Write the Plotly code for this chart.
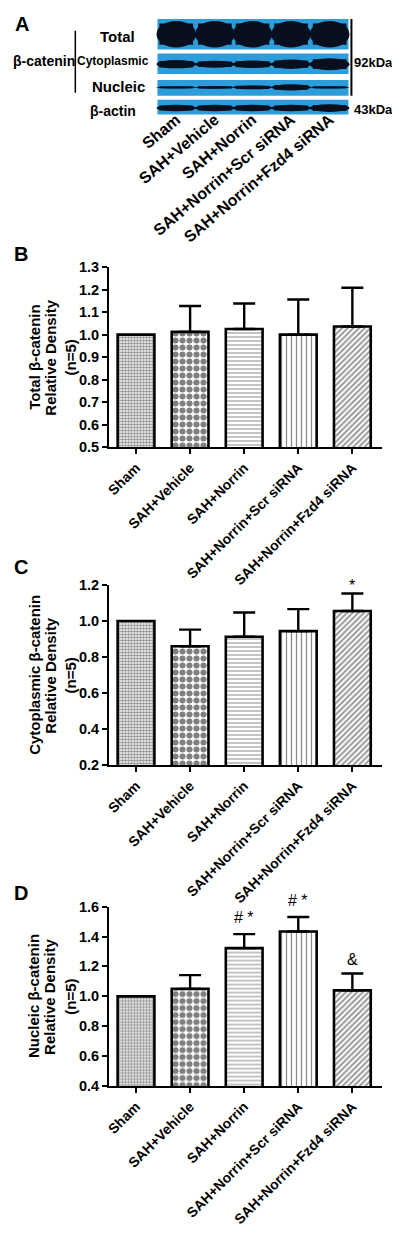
import plotly.graph_objects as go

# ---------------- data ----------------
categories = ["Sham", "SAH+Vehicle", "SAH+Norrin", "SAH+Norrin+Scr siRNA", "SAH+Norrin+Fzd4 siRNA"]

total_mean = [1.000, 1.012, 1.025, 1.000, 1.036]
total_err = [0.000, 0.115, 0.113, 0.156, 0.172]

cyto_mean = [1.000, 0.860, 0.913, 0.944, 1.056]
cyto_err = [0.000, 0.092, 0.134, 0.122, 0.097]

nuc_mean = [1.000, 1.050, 1.322, 1.434, 1.040]
nuc_err = [0.000, 0.092, 0.094, 0.096, 0.113]

cyto_marks = ["", "", "", "", "*"]
nuc_marks = ["", "", "# *", "# *", "&"]

# western blot band strengths per lane (relative thickness of the band)
band_total = [1.0, 1.0, 1.0, 1.0, 1.0]
band_cyto = [0.42, 0.36, 0.38, 0.48, 0.62]
band_nuc = [0.16, 0.20, 0.28, 0.45, 0.18]
band_actin = [0.50, 0.50, 0.50, 0.50, 0.60]

# page: body has an 8px margin, so the figure is 384 x 1219 drawn at (8, 8)
OX, OY = 8, 8
W, H = 384, 1219
FONT = "Liberation Sans, Arial, sans-serif"
BLUE = "#2c9cda"
BAND = "#08101f"
MARK_SHIFT = {"*": -3, "# *": 6, "&": 3}


def py(p):
    return 1 - (p - OY) / H


def px(p):
    return (p - OX) / W


patterns = [
    dict(shape=".", size=3, solidity=0.6, fgcolor="#222", bgcolor="white"),
    dict(shape=".", size=7, solidity=0.6, fgcolor="black", bgcolor="white"),
    dict(shape="-", size=4, solidity=0.35, fgcolor="#555", bgcolor="white"),
    dict(shape="|", size=5, solidity=0.25, fgcolor="#111", bgcolor="white"),
    dict(shape="/", size=4, solidity=0.5, fgcolor="#333", bgcolor="white"),
]

fig = go.Figure()

panels = [
    dict(mean=total_mean, err=total_err, top=263, bot=446, rng=[0.5, 1.3], dtick=0.1,
         title=["Total β-catenin", "Relative Density", "(n=5)"], marks=None, letter="B", ly=250),
    dict(mean=cyto_mean, err=cyto_err, top=586, bot=769, rng=[0.2, 1.2], dtick=0.2,
         title=["Cytoplasmic β-catenin", "Relative Density", "(n=5)"], marks=cyto_marks, letter="C", ly=568),
    dict(mean=nuc_mean, err=nuc_err, top=912.7, bot=1095, rng=[0.4, 1.6], dtick=0.2,
         title=["Nucleic β-catenin", "Relative Density", "(n=5)"], marks=nuc_marks, letter="D", ly=899),
]

annotations = []
xs = list(range(len(categories)))

for i, p in enumerate(panels):
    n = i + 1
    xa = "x" if n == 1 else f"x{n}"
    ya = "y" if n == 1 else f"y{n}"
    for k in xs:
        fig.add_trace(go.Bar(
            x=[k], y=[p["mean"][k]], base=0, xaxis=xa, yaxis=ya, width=0.68,
            marker=dict(color="white", line=dict(color="black", width=2.6), pattern=patterns[k]),
            error_y=dict(type="data", symmetric=False, array=[p["err"][k]], arrayminus=[0],
                         color="black", thickness=2.4, width=11, visible=p["err"][k] > 0),
            showlegend=False, hoverinfo="skip",
        ))
    axis_common = dict(showline=True, linecolor="black", linewidth=2, ticks="outside",
                       ticklen=5, tickwidth=2, tickcolor="black", showgrid=False, zeroline=False)
    fig.update_layout(**{
        ("xaxis" if n == 1 else f"xaxis{n}"): dict(
            domain=[px(106), px(382)], range=[-0.5, 4.55], anchor=ya,
            tickvals=xs, ticktext=categories, tickangle=-45,
            tickfont=dict(family=FONT, size=14, color="black", weight="bold"), **axis_common),
        ("yaxis" if n == 1 else f"yaxis{n}"): dict(
            domain=[py(p["bot"]), py(p["top"])], range=p["rng"], anchor=xa,
            dtick=p["dtick"], tick0=0, tickformat=".1f",
            tickfont=dict(family=FONT, size=14.5, color="black", weight="bold"), **axis_common),
    })
    ymid = py((p["top"] + p["bot"]) / 2)
    for line, xpos in zip(p["title"], [30, 46, 67]):
        annotations.append(dict(text=line, x=px(xpos), y=ymid, xref="paper", yref="paper",
                                textangle=-90, showarrow=False, xanchor="center", yanchor="middle",
                                font=dict(family=FONT, size=15, color="black", weight="bold")))
    annotations.append(dict(text=p["letter"], x=0, y=py(p["ly"]), xref="paper", yref="paper",
                            showarrow=False, xanchor="left", yanchor="middle",
                            font=dict(family=FONT, size=20, color="black", weight="bold")))
    if p["marks"]:
        for k in xs:
            m = p["marks"][k]
            if m:
                annotations.append(dict(text=m, x=k, y=p["mean"][k] + p["err"][k],
                                        xref=xa, yref=ya, showarrow=False, yanchor="bottom",
                                        yshift=MARK_SHIFT[m],
                                        font=dict(family=FONT, size=16, color="black")))

# ---------------- panel A: western blot ----------------
lane_centers = [174, 213, 251, 290, 329]
fig.add_trace(go.Scatter(x=[200], y=[50], xaxis="x4", yaxis="y4", mode="markers",
                         marker=dict(opacity=0), showlegend=False, hoverinfo="skip"))
fig.update_layout(
    xaxis4=dict(domain=[0, 1], range=[OX, OX + W], anchor="y4", showgrid=False, zeroline=False,
                showline=False, ticks="", tickvals=lane_centers, ticktext=categories,
                tickangle=-40, ticklabelstandoff=-10,
                tickfont=dict(family=FONT, size=16, color="black", weight="bold")),
    yaxis4=dict(domain=[py(110), 1], range=[110, OY], anchor="x4", showgrid=False,
                zeroline=False, showline=False, showticklabels=False, ticks=""),
)

shapes = []
boxes = [(11, 42), (46, 67), (73, 89), (93, 108)]
band_specs = [(band_total, 26.5, 27), (band_cyto, 57, 20), (band_nuc, 80.5, 14), (band_actin, 101.5, 13)]
for (y0, y1) in boxes:
    shapes.append(dict(type="rect", xref="x4", yref="y4", x0=155, x1=348, y0=y0, y1=y1,
                       fillcolor=BLUE, line=dict(width=0), layer="above"))
for (vals, yc, hmax) in band_specs:
    for c, v in zip(lane_centers, vals):
        h = hmax * v
        shapes.append(dict(type="circle", xref="x4", yref="y4", x0=c - 20, x1=c + 20,
                           y0=yc - h / 2, y1=yc + h / 2, fillcolor=BAND, line=dict(width=0), layer="above"))
        shapes.append(dict(type="rect", xref="x4", yref="y4", x0=c - 17, x1=c + 17,
                           y0=yc - h / 2.5, y1=yc + h / 2.5, fillcolor=BAND, line=dict(width=0), layer="above"))
# bracket lines
shapes.append(dict(type="line", xref="x4", yref="y4", x0=351, x1=351, y0=11, y1=89,
                   line=dict(color="black", width=2), layer="above"))
shapes.append(dict(type="line", xref="x4", yref="y4", x0=72, x1=72, y0=23, y1=86,
                   line=dict(color="black", width=1.5), layer="above"))

blot_labels = [("Total", 115, 29, 15), ("Cytoplasmic", 110, 54, 12), ("Nucleic", 116, 80, 15),
               ("β-actin", 110, 105, 14), ("β-catenin", 40, 54, 14), ("92kDa", 373, 55, 13),
               ("43kDa", 373, 103, 13)]
for text, x, y, s in blot_labels:
    annotations.append(dict(text=text, x=x, y=y, xref="x4", yref="y4", showarrow=False,
                            xanchor="center", yanchor="middle",
                            font=dict(family=FONT, size=s, color="black", weight="bold")))
annotations.append(dict(text="A", x=px(9), y=py(16), xref="paper", yref="paper", showarrow=False,
                        xanchor="left", yanchor="middle",
                        font=dict(family=FONT, size=20, color="black", weight="bold")))

fig.update_layout(
    width=W, height=H, margin=dict(l=0, r=0, t=0, b=0),
    paper_bgcolor="white", plot_bgcolor="white", barmode="overlay",
    annotations=annotations, shapes=shapes,
)

fig.write_html("out.html")
